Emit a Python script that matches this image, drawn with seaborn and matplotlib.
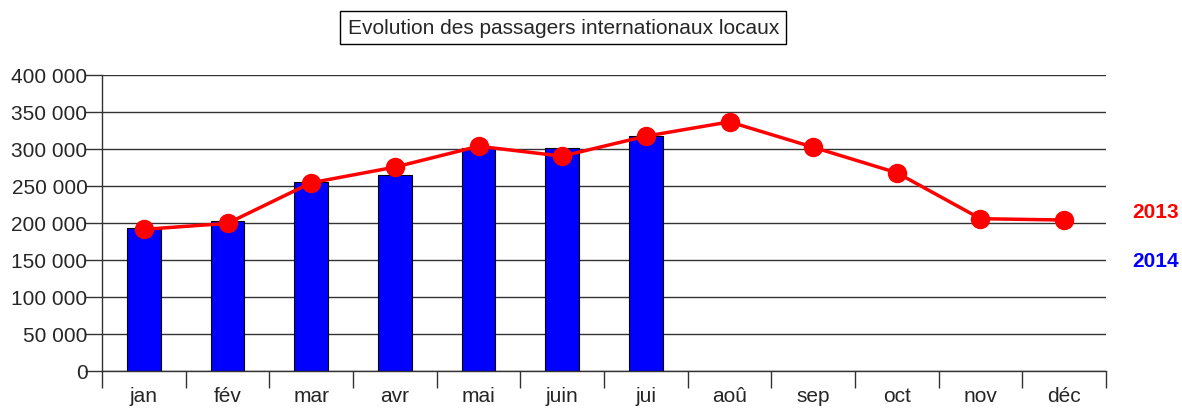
import pandas as pd
import seaborn as sns
import matplotlib.pyplot as plt
import numpy as np
from matplotlib.ticker import FuncFormatter, FixedLocator

# Monthly international passengers (local)
months = ["jan", "fév", "mar", "avr", "mai", "juin", "jui", "aoû", "sep", "oct", "nov", "déc"]
pax_2014 = [193500, 203000, 254500, 265000, 301300, 301300, 317000]
pax_2013 = [191200, 199300, 254100, 275200, 303400, 290000, 317000,
            336300, 302100, 267600, 205600, 203800]

sns.set_style("white")
plt.rcParams['font.family'] = ['Liberation Sans', 'DejaVu Sans']

bars = pd.DataFrame({"mois": months[:len(pax_2014)], "pax": pax_2014})
line = pd.DataFrame({"x": np.arange(len(months)), "pax": pax_2013})

fig = plt.figure(figsize=(11.82, 4.10), dpi=100)
ax = fig.add_axes([0.0863, 0.0927, 0.8494, 0.7227])

sns.barplot(data=bars, x="mois", y="pax", order=months, color="#0000ff",
            saturation=1, width=0.4, edgecolor="black", linewidth=0.8, ax=ax, zorder=2)
sns.lineplot(data=line, x="x", y="pax", color="#ff0000", linewidth=2.5,
             marker="o", markersize=14, markeredgewidth=0, ax=ax, zorder=3)

ax.set_xlim(-0.5, len(months) - 0.5)
ax.set_ylim(0, 400000)
ax.set_yticks(np.arange(0, 400001, 50000))
ax.yaxis.set_major_formatter(FuncFormatter(lambda v, p: f"{int(v):,}".replace(",", " ")))
ax.grid(axis="y", color="#333333", linewidth=1, zorder=0)
ax.set_axisbelow(True)

# labels at the centres, tick marks between months
ax.set_xticks(np.arange(len(months)))
ax.set_xticklabels(months)
ax.xaxis.set_minor_locator(FixedLocator(np.arange(-0.5, len(months), 1)))
ax.tick_params(axis="x", which="major", length=0, pad=11, labelsize=15)
ax.tick_params(axis="x", which="minor", length=12, width=1, color="#333333", direction="out", bottom=True)
ax.tick_params(axis="y", length=12, width=1, color="#333333", direction="out", left=True, labelsize=15, pad=-1.5)
ax.set_xlabel("")
ax.set_ylabel("")
for s in ["top", "right"]:
    ax.spines[s].set_visible(False)
for s in ["left", "bottom"]:
    ax.spines[s].set_color("#333333")
    ax.spines[s].set_linewidth(1)

fig.text(0.4767, 0.930, "Evolution des passagers internationaux locaux", ha="center", va="center",
         fontsize=15, bbox=dict(boxstyle="square,pad=0.35", facecolor="white", edgecolor="black", linewidth=1))

fig.text(0.958, 0.482, "2013", color="#ff0000", fontsize=15, fontweight="bold", va="center")
fig.text(0.958, 0.362, "2014", color="#0000ff", fontsize=15, fontweight="bold", va="center")

plt.savefig("out.png", dpi=100)
